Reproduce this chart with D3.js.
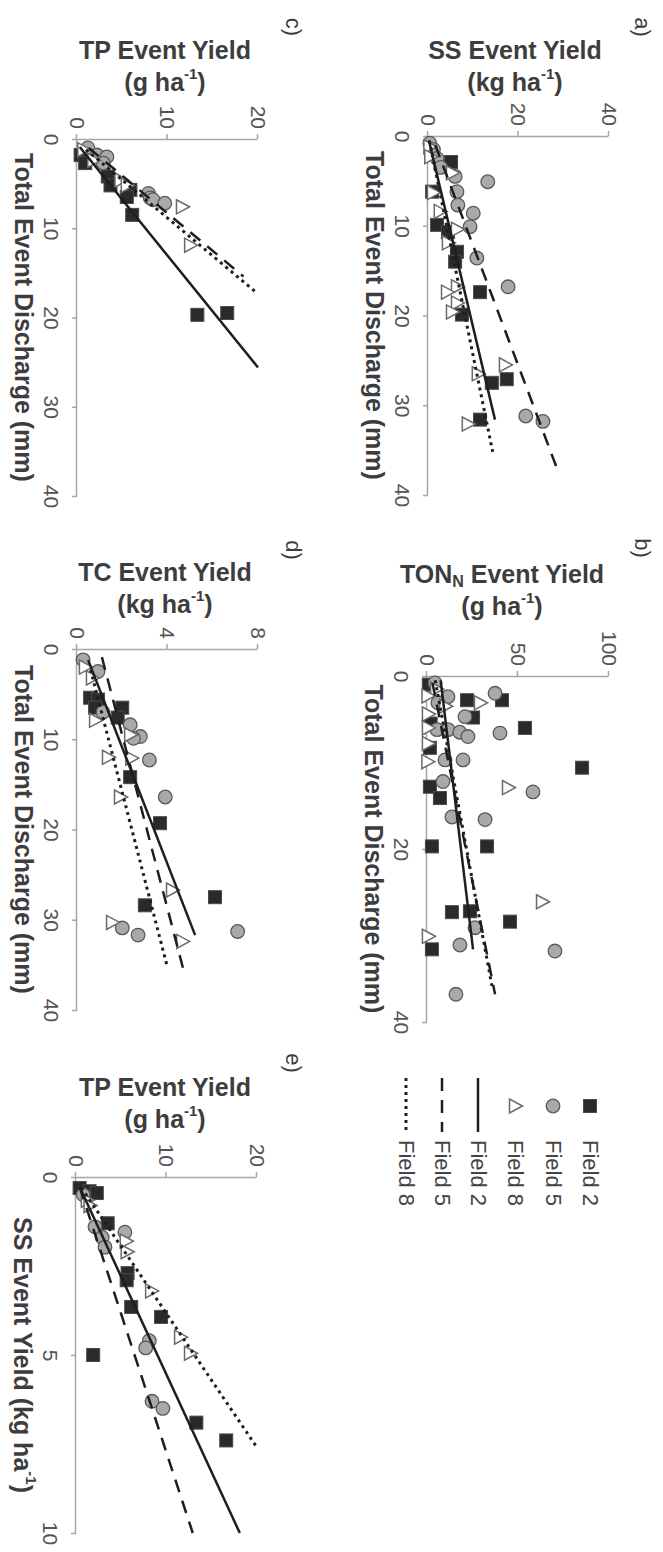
<!DOCTYPE html>
<html>
<head>
<meta charset="utf-8">
<title>event yields</title>
<style>
  body { margin: 0; background: #fff; }
  svg { display: block; }
</style>
</head>
<body>
<div id="chart"></div>
<script src="https://cdn.jsdelivr.net/npm/d3@7"></script>
<script>
(function () {

  // ---- data: [x, y] ----
  // a) discharge (mm) vs SS yield (kg/ha)
  var ssF2 = [[2.9,5.1],[6.2,0.9],[9.9,2.0],[10.7,4.4],[12.9,6.4],[14.0,6.0],[17.4,11.5],[19.9,7.5],[27.5,14.1],[27.1,17.4],[31.6,11.5]];
  var ssF5 = [[0.8,0.4],[1.5,1.2],[2.5,2.0],[3.5,2.8],[4.5,6.0],[5.1,13.2],[6.2,6.4],[7.7,6.6],[8.6,10.0],[10.1,9.3],[13.6,10.8],[16.8,17.7],[31.2,21.6],[31.8,25.4]];
  var ssF8 = [[1.2,0.3],[2.3,0.5],[4.1,5.3],[6.3,1.1],[8.4,2.6],[10.4,6.4],[11.9,4.4],[16.8,6.4],[17.4,4.2],[18.6,6.4],[19.6,5.3],[25.5,17.0],[26.5,11.0],[32.1,8.8]];
  var ssFit2 = [[0.5,0.2],[31.6,14.8]];
  var ssFit5 = [[1.0,1.6],[36.9,28.4]];
  var ssFit8 = [[0.5,0.3],[35.2,14.3]];

  // b) discharge (mm) vs TON_N yield (g/ha)
  var tonF2 = [[1.0,1.0],[2.8,41.2],[2.8,22.0],[4.8,25.3],[5.5,2.0],[6.0,53.8],[8.3,1.6],[10.6,85.2],[12.8,1.6],[14.1,7.1],[19.7,2.7],[19.7,33.0],[27.3,13.7],[27.2,23.6],[28.4,45.6],[31.6,2.7]];
  var tonF5 = [[0.8,4.4],[2.0,37.4],[2.4,11.5],[3.1,6.0],[4.7,20.9],[6.2,5.5],[6.2,11.5],[6.5,18.0],[6.6,40.1],[7.0,22.5],[9.7,9.9],[9.7,19.8],[12.2,8.8],[13.4,58.2],[16.3,13.7],[16.6,31.9],[29.1,26.4],[31.1,18.1],[31.8,70.3],[36.8,15.9]];
  var tonF8 = [[1.5,5.0],[2.3,0.3],[3.1,29.1],[3.5,10.0],[4.4,0.5],[6.0,0.5],[7.8,0.5],[9.9,0.2],[12.9,44.5],[26.1,63.2],[30.1,0.5]];
  var tonFit2 = [[0.5,7.5],[31.6,25.3]];
  var tonFit5 = [[0.8,3.0],[36.8,37.4]];
  var tonFit8 = [[0.5,4.5],[36.2,36.0]];

  // c) discharge (mm) vs TP yield (g/ha)
  var tpF2 = [[1.8,0.4],[2.7,0.9],[4.2,3.4],[5.2,3.7],[5.7,5.9],[6.5,5.5],[8.5,6.1],[19.7,13.3],[19.5,16.6]];
  var tpF5 = [[1.0,1.2],[1.8,2.2],[2.0,3.3],[2.7,2.9],[6.1,7.9],[6.6,8.1],[6.8,8.4],[7.2,9.7]];
  var tpF8 = [[1.2,0.7],[2.4,1.8],[4.6,4.8],[5.2,5.5],[7.6,11.6],[11.9,12.5]];
  var tpFit2 = [[0.9,0.3],[25.6,20.0]];
  var tpFit5 = [[1.0,1.3],[15.4,18.4]];
  var tpFit8 = [[1.2,1.0],[17.1,19.7]];

  // d) discharge (mm) vs TC yield (kg/ha)
  var tcF2 = [[5.4,0.58],[5.6,0.93],[6.5,0.80],[6.5,2.0],[7.6,1.8],[14.2,2.35],[19.3,3.67],[27.5,6.1],[28.4,3.0]];
  var tcF5 = [[1.2,0.27],[2.5,0.93],[7.0,1.15],[8.4,2.35],[9.7,2.8],[9.9,2.5],[12.3,3.2],[16.4,3.9],[30.9,2.0],[31.3,7.1],[31.7,2.7]];
  var tcF8 = [[2.0,0.35],[3.2,0.66],[7.9,0.8],[9.5,2.35],[12.0,1.37],[12.1,2.4],[16.4,1.9],[26.7,4.2],[30.3,1.55],[32.4,4.65]];
  var tcFit2 = [[1.2,0.49],[31.7,5.22]];
  var tcFit5 = [[0.9,1.1],[35.5,4.7]];
  var tcFit8 = [[2.3,0.6],[35.3,4.0]];

  // e) SS yield (kg/ha) vs TP yield (g/ha)
  var sstpF2 = [[0.31,0.4],[0.4,1.5],[0.45,2.3],[1.3,3.5],[2.7,5.7],[2.9,5.6],[3.65,6.1],[3.93,9.4],[5.0,1.9],[6.9,13.3],[7.4,16.6]];
  var sstpF5 = [[0.5,0.8],[1.4,2.1],[1.55,5.4],[1.7,2.9],[1.97,3.2],[4.6,8.1],[4.8,7.7],[6.3,8.4],[6.5,9.6]];
  var sstpF8 = [[0.65,1.2],[0.8,1.5],[1.8,5.5],[2.1,5.6],[3.2,8.3],[4.5,11.5],[4.95,12.6]];
  var sstpFit2 = [[0.28,0.4],[10.0,18.1]];
  var sstpFit5 = [[0.28,0.4],[10.0,12.9]];
  var sstpFit8 = [[0.3,0.6],[7.6,20.0]];

  var fields = ['Field 2', 'Field 5', 'Field 8'];

  // ---- layout (drawn landscape, then turned 90deg clockwise) ----
  var W = 1552, H = 663
    , font = '"Liberation Sans", Arial, sans-serif'
    , ink = '#3d3d3d'
    , axisCol = '#a6a6a6'
    , dashes = [null, '13 9', '3 4']
  ;

  var panels = [
    { label: 'a)', lab: [27, 21], xr: [136, 495], yr: [235, 54], xd: [0, 40], yd: [0, 40],
      xt: [0,10,20,30,40], yt: [0,20,40], pts: [ssF2, ssF5, ssF8], fits: [ssFit2, ssFit5, ssFit8],
      yTitle: ['SS Event Yield', 'kg'], tpos: [50, 148], xTitle: 'discharge' },
    { label: 'b)', lab: [548, 21], xr: [676, 1022], yr: [236, 54], xd: [0, 40], yd: [0, 100],
      xt: [0,20,40], yt: [0,50,100], pts: [tonF2, tonF5, tonF8], fits: [tonFit2, tonFit5, tonFit8],
      yTitle: ['TON', 'g'], tpos: [574, 161], xTitle: 'discharge' },
    { label: 'c)', lab: [27, 370], xr: [139, 496], yr: [586, 405], xd: [0, 40], yd: [0, 20],
      xt: [0,10,20,30,40], yt: [0,10,20], pts: [tpF2, tpF5, tpF8], fits: [tpFit2, tpFit5, tpFit8],
      yTitle: ['TP Event Yield', 'g'], tpos: [50, 498], xTitle: 'discharge' },
    { label: 'd)', lab: [550, 370], xr: [649, 1010], yr: [586, 405], xd: [0, 40], yd: [0, 8],
      xt: [0,10,20,30,40], yt: [0,4,8], pts: [tcF2, tcF5, tcF8], fits: [tcFit2, tcFit5, tcFit8],
      yTitle: ['TC Event Yield', 'kg'], tpos: [572, 498], xTitle: 'discharge' },
    { label: 'e)', lab: [1063, 370], xr: [1177, 1533], yr: [587, 406], xd: [0, 10], yd: [0, 20],
      xt: [0,5,10], yt: [0,10,20], pts: [sstpF2, sstpF5, sstpF8], fits: [sstpFit2, sstpFit5, sstpFit8],
      yTitle: ['TP Event Yield', 'g'], tpos: [1087, 498], xTitle: 'ss' }
  ];

  var svg = d3.select('#chart').append('svg')
      .attr('width', H)
      .attr('height', W)
      .style('font-family', font)
  ;
  svg.append('rect').attr('width', H).attr('height', W).attr('fill', '#fff');

  var g = svg.append('g')
      .attr('transform', 'translate(' + H + ',0) rotate(90)');

  function marker(sel, k) {
    if (k === 0) {
      sel.append('rect')
        .attr('x', -6.5).attr('y', -6.5).attr('width', 13).attr('height', 13)
        .attr('fill', '#2a2a2a').attr('stroke', '#4a4a4a').attr('stroke-width', 1);
    } else if (k === 1) {
      sel.append('circle')
        .attr('r', 6.8)
        .attr('fill', '#a9a9a9').attr('stroke', '#5a5a5a').attr('stroke-width', 1.3);
    } else {
      sel.append('path')
        .attr('d', 'M0,-7.5L7,5.5L-7,5.5Z')
        .attr('fill', '#fff').attr('stroke', '#6a6a6a').attr('stroke-width', 1.5);
    }
  }

  function unitTitle(text, unit) {
    text.append('tspan').text('(' + unit + ' ha');
    text.append('tspan').attr('dy', -9).attr('font-size', 15).text('-1');
    text.append('tspan').attr('dy', 9).text(')');
  }

  panels.forEach(function (p) {
    var x = d3.scaleLinear().domain(p.xd).range(p.xr)
      , y = d3.scaleLinear().domain(p.yd).range(p.yr)
      , pg = g.append('g')
    ;

    var xa = pg.append('g')
        .attr('transform', 'translate(0,' + p.yr[0] + ')')
        .call(d3.axisBottom(x).tickValues(p.xt).tickSize(5).tickSizeOuter(0).tickPadding(13));
    var ya = pg.append('g')
        .attr('transform', 'translate(' + p.xr[0] + ',0)')
        .call(d3.axisLeft(y).tickValues(p.yt).tickSize(5).tickSizeOuter(0).tickPadding(5));

    [xa, ya].forEach(function (a) {
      a.attr('font-family', font).attr('font-size', 21);
      a.selectAll('.domain, .tick line').attr('stroke', axisCol).attr('stroke-width', 1.5);
      a.selectAll('text').attr('fill', '#555');
    });

    // markers, series in order Field 2, 5, 8
    p.pts.forEach(function (data, k) {
      pg.append('g').selectAll('g')
        .data(data)
        .enter()
        .append('g')
          .attr('transform', function (d) {
            return 'translate(' + x(d[0]) + ',' + y(d[1]) + ')';
          })
          .each(function () { marker(d3.select(this), k); })
      ;
    });

    // fitted lines
    var line = d3.line()
        .x(function (d) { return x(d[0]); })
        .y(function (d) { return y(d[1]); });
    p.fits.forEach(function (data, k) {
      pg.append('path')
        .attr('d', line(data))
        .attr('fill', 'none')
        .attr('stroke', '#1e1e1e')
        .attr('stroke-width', k === 2 ? 3 : 2.5)
        .attr('stroke-dasharray', dashes[k]);
    });

    // y title, two lines, rotated
    var yt = pg.append('g')
          .attr('transform', 'translate(' + p.tpos[0] + ',' + p.tpos[1] + ') rotate(-90)')
      , t1 = yt.append('text')
          .attr('text-anchor', 'middle').attr('dominant-baseline', 'central')
          .attr('font-size', 25).attr('font-weight', 'bold').attr('fill', ink)
    ;
    if (p.yTitle[0] === 'TON') {
      t1.append('tspan').text('TON');
      t1.append('tspan').attr('dy', 7).attr('font-size', 16).text('N');
      t1.append('tspan').attr('dy', -7).text(' Event Yield');
    } else {
      t1.text(p.yTitle[0]);
    }
    var t2 = yt.append('text')
        .attr('y', 32)
        .attr('text-anchor', 'middle').attr('dominant-baseline', 'central')
        .attr('font-size', 25).attr('font-weight', 'bold').attr('fill', ink);
    unitTitle(t2, p.yTitle[1]);

    // x title
    var xt = pg.append('text')
        .attr('x', (p.xr[0] + p.xr[1]) / 2)
        .attr('y', p.yr[0] + 53)
        .attr('text-anchor', 'middle').attr('dominant-baseline', 'central')
        .attr('font-size', 25).attr('font-weight', 'bold').attr('fill', ink);
    if (p.xTitle === 'ss') {
      xt.append('tspan').text('SS Event Yield ');
      unitTitle(xt, 'kg');
    } else {
      xt.text('Total Event Discharge (mm)');
    }

    // panel letter
    pg.append('text')
      .attr('x', p.lab[0]).attr('y', p.lab[1])
      .attr('text-anchor', 'middle').attr('dominant-baseline', 'central')
      .attr('font-size', 22).attr('fill', ink)
      .text(p.label);
  });

  // legend
  var leg = g.append('g').attr('transform', 'translate(1106,0)')
    , rowsY = [73, 110, 148, 185, 221, 257]
  ;
  fields.forEach(function (f, k) {
    marker(leg.append('g').attr('transform', 'translate(0,' + rowsY[k] + ')'), k);
    leg.append('line')
      .attr('x1', -28).attr('x2', 26)
      .attr('y1', rowsY[k + 3]).attr('y2', rowsY[k + 3])
      .attr('stroke', '#1e1e1e')
      .attr('stroke-width', k === 2 ? 3 : 2.5)
      .attr('stroke-dasharray', dashes[k]);
  });
  leg.selectAll('text.lab')
    .data(fields.concat(fields))
    .enter()
    .append('text')
      .attr('x', 34)
      .attr('y', function (d, i) { return rowsY[i]; })
      .attr('dominant-baseline', 'central')
      .attr('font-size', 22).attr('fill', '#444')
      .text(function (d) { return d; })
  ;

}).call(this);
</script>
</body>
</html>
